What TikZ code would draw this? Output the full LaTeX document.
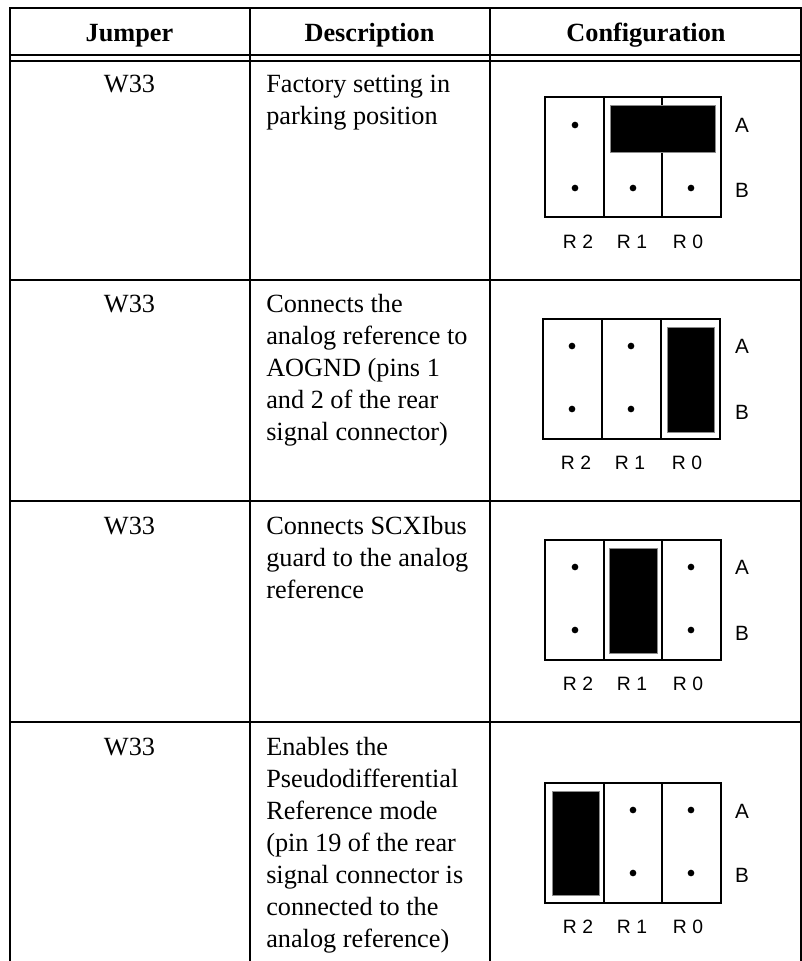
\documentclass[tikz,border=0pt]{standalone}
\usepackage{fontspec}
\setmainfont{Liberation Serif}
\newfontfamily\lab{Liberation Sans}
\newcommand{\FL}{\rule{0pt}{14pt}}
\tikzset{
  grid/.style={line width=1.55pt,black},
  boxln/.style={line width=2pt,black},
  hd/.style={font=\fontsize{19.7}{24}\selectfont\bfseries,anchor=base,inner sep=0},
  body/.style={font=\fontsize{19.7}{24}\selectfont,anchor=base,inner sep=0},
  desc/.style={font=\fontsize{19.7}{24}\selectfont,anchor=north west,inner sep=0,align=left},
  lbl/.style={font=\lab\fontsize{14.5}{16}\selectfont,inner sep=0,text=black},
  ablbl/.style={font=\lab\fontsize{15.5}{16}\selectfont,inner sep=0,text=black},
  pinpt/.style={circle,fill=black,minimum size=5pt,inner sep=0},
  jump/.style={fill=black,draw=black!45,line width=0.3pt}
}
\begin{document}
\begin{tikzpicture}[x=0.75pt,y=-0.75pt]
\useasboundingbox (0,0) rectangle (802,961);
% table rules
\draw[grid] (10,961) -- (10,8) -- (801,8) -- (801,961);
\draw[grid] (250,8) -- (250,961);
\draw[grid] (490,8) -- (490,961);
\foreach \y in {55,61,280,501,722}{\draw[grid] (10,\y) -- (801,\y);}
\node[hd] (h1) at (129.5,41) {Jumper};
\node[hd] (h2) at (369.5,41) {Description};
\node[hd] (h3) at (646,41) {Configuration};
\foreach \n/\y in {a/92,b/312,c/534,d/755}{\node[body] (w\n) at (129.5,\y) {W33};}
\node[desc] (da) at (266,73.3) {\FL Factory setting in\\parking position};
\node[desc] (db) at (266,293.3) {\FL Connects the\\analog reference to\\AOGND (pins 1\\and 2 of the rear\\signal connector)};
\node[desc] (dc) at (266,515.3) {\FL Connects SCXIbus\\guard to the analog\\reference};
\node[desc] (dd) at (266,736.3) {\FL Enables the\\Pseudodifferential\\Reference mode\\(pin 19 of the rear\\signal connector is\\connected to the\\analog reference)};
% diagram 1
\draw[boxln] (545,97) rectangle (721,217) (604,97) -- (604,217) (662,97) -- (662,217);
\fill[jump] (610,105) rectangle (715,152);
\foreach \x/\y in {575/125,575/188,633/188,691/188}{\node[pinpt] at (\x,\y) {};}
\node[ablbl] (a1) at (742,125) {A};
\node[ablbl] (b1) at (742,190) {B};
\node[lbl] (r21) at (578,242) {R 2};
\node[lbl] (r11) at (632,242) {R 1};
\node[lbl] (r01) at (688,242) {R 0};
% diagram 2
\draw[boxln] (543,319) rectangle (720,439) (602,319) -- (602,439) (661,319) -- (661,439);
\fill[jump] (667,327) rectangle (714,432);
\foreach \x/\y in {572/346,572/409,631/346,631/409}{\node[pinpt] at (\x,\y) {};}
\node[ablbl] (a2) at (742,346) {A};
\node[ablbl] (b2) at (742,412) {B};
\node[lbl] (r22) at (576,463) {R 2};
\node[lbl] (r12) at (630,463) {R 1};
\node[lbl] (r02) at (687,463) {R 0};
% diagram 3
\draw[boxln] (545,540) rectangle (721,660) (604,540) -- (604,660) (662,540) -- (662,660);
\fill[jump] (609,548) rectangle (657,653);
\foreach \x/\y in {575/567,575/630,691/567,691/630}{\node[pinpt] at (\x,\y) {};}
\node[ablbl] (a3) at (742,567) {A};
\node[ablbl] (b3) at (742,633) {B};
\node[lbl] (r23) at (578,684) {R 2};
\node[lbl] (r13) at (632,684) {R 1};
\node[lbl] (r03) at (688,684) {R 0};
% diagram 4
\draw[boxln] (545,783) rectangle (721,903) (604,783) -- (604,903) (662,783) -- (662,903);
\fill[jump] (552,791) rectangle (599,895);
\foreach \x/\y in {633/810,633/873,691/810,691/873}{\node[pinpt] at (\x,\y) {};}
\node[ablbl] (a4) at (742,811) {A};
\node[ablbl] (b4) at (742,875) {B};
\node[lbl] (r24) at (578,927) {R 2};
\node[lbl] (r14) at (632,927) {R 1};
\node[lbl] (r04) at (688,927) {R 0};
\end{tikzpicture}
\end{document}
